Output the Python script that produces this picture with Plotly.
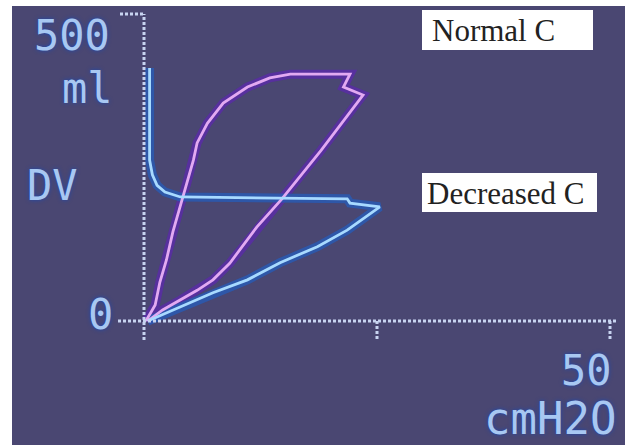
import plotly.graph_objects as go

# ---- data (pressure cmH2O, volume ml) ----
normal_pressure = [0.2, 1.2, 1.7, 2.4, 3.1, 3.9, 4.6, 5.3, 5.7, 6.8, 8.5, 11.1, 13.5, 15.7,
                   22.1, 21.4, 23.5, 19.0, 14.8, 12.1, 9.2, 7.4, 5.7, 3.9, 2.0, 0.4]
normal_volume = [0, 26, 63, 99, 145, 189, 225, 262, 290, 322, 355, 381, 396, 402,
                 402, 381, 368, 278, 199, 153, 94, 67, 50, 34, 18, 0]

decreased_pressure = [0.4, 3.9, 7.4, 11.1, 14.6, 18.6, 21.8, 25.3, 22.1, 21.8,
                      3.9, 2.25, 1.4, 0.9, 0.6, 0.6]
decreased_volume = [0, 23, 46, 67, 95, 121, 148, 186, 192, 199,
                    202, 210, 221, 238, 262, 412]

x_ticks = [0, 25, 50]
y_ticks = [0, 500]
series_labels = ["Normal C", "Decreased C"]

# ---- pixel <-> data mapping helpers (layout only) ----
X0, XS = 144, 9.32      # px of pressure 0, px per cmH2O
Y0, YS = 321, 0.614     # px of volume 0, px per ml


def dx(px):
    return (px - X0) / XS


def dy(py):
    return (Y0 - py) / YS


BG = "#4a4772"
PINK = "#e2aaf2"
PINK_HALO = "#5a2ca6"
CYAN = "#a8daff"
CYAN_HALO = "#2a5ab2"
AXIS = "#c8d4f0"
LABEL = "#a8c8f2"
SHADOW = "0px 0px 4px #1c48b0"

fig = go.Figure()

# halos
fig.add_trace(go.Scatter(x=normal_pressure, y=normal_volume, mode="lines",
                         line=dict(color=PINK_HALO, width=9), opacity=0.85, hoverinfo="skip"))
fig.add_trace(go.Scatter(x=decreased_pressure, y=decreased_volume, mode="lines",
                         line=dict(color=CYAN_HALO, width=9), opacity=0.85, hoverinfo="skip"))
# loops
fig.add_trace(go.Scatter(x=normal_pressure, y=normal_volume, mode="lines",
                         name=series_labels[0], line=dict(color=PINK, width=2.8)))
fig.add_trace(go.Scatter(x=decreased_pressure, y=decreased_volume, mode="lines",
                         name=series_labels[1], line=dict(color=CYAN, width=2.8)))

shapes = []
dot = dict(color=AXIS, width=3, dash="3px,2px")
# background panel
shapes.append(dict(type="rect", xref="x", yref="y", x0=dx(12), x1=dx(625), y0=dy(445), y1=dy(6),
                   fillcolor=BG, line=dict(width=0), layer="below"))
# y axis
shapes.append(dict(type="line", x0=0, x1=0, y0=dy(340), y1=y_ticks[1], line=dot))
shapes.append(dict(type="line", x0=dx(120), x1=0, y0=y_ticks[1], y1=y_ticks[1], line=dot))
# x axis
shapes.append(dict(type="line", x0=dx(118), x1=dx(617), y0=0, y1=0, line=dot))
for t in x_ticks[1:]:
    shapes.append(dict(type="line", x0=t, x1=t, y0=0, y1=dy(340), line=dot))
# label boxes
shapes.append(dict(type="rect", x0=dx(422), x1=dx(593), y0=dy(50), y1=dy(10),
                   fillcolor="white", line=dict(width=0)))
shapes.append(dict(type="rect", x0=dx(422), x1=dx(597), y0=dy(212), y1=dy(173),
                   fillcolor="white", line=dict(width=0)))

mono = "DejaVu Sans Mono"
ann = []


def lab(text, px, py, size, xanchor="right"):
    ann.append(dict(x=dx(px), y=dy(py), text=text, showarrow=False, xanchor=xanchor,
                    yanchor="middle",
                    font=dict(family=mono, size=size, color=LABEL, shadow=SHADOW)))


lab(str(y_ticks[1]), 112, 35, 42)
lab("ml", 115, 88, 42)
lab("DV", 25, 185, 42, xanchor="left")
lab(str(y_ticks[0]), 115, 314, 42)
lab(str(x_ticks[2]), 614, 370, 42)
lab("cmH2O", 618, 418, 44)

ann.append(dict(x=dx(430), y=dy(30), text=series_labels[0], showarrow=False, xanchor="left",
                yanchor="middle", font=dict(family="Liberation Serif", size=31, color="#222222")))
ann.append(dict(x=dx(425), y=dy(193), text=series_labels[1], showarrow=False, xanchor="left",
                yanchor="middle", font=dict(family="Liberation Serif", size=31, color="#222222")))

fig.update_layout(
    width=625, height=445,
    margin=dict(l=0, r=0, t=0, b=0),
    paper_bgcolor="white", plot_bgcolor="white",
    showlegend=False,
    shapes=shapes, annotations=ann,
    xaxis=dict(range=[dx(0), dx(625)], visible=False, fixedrange=True),
    yaxis=dict(range=[dy(445), dy(0)], visible=False, fixedrange=True),
)

fig.write_html("out.html", config={"displayModeBar": False},
               post_script="document.body.style.margin='0';document.body.style.overflow='hidden';")
